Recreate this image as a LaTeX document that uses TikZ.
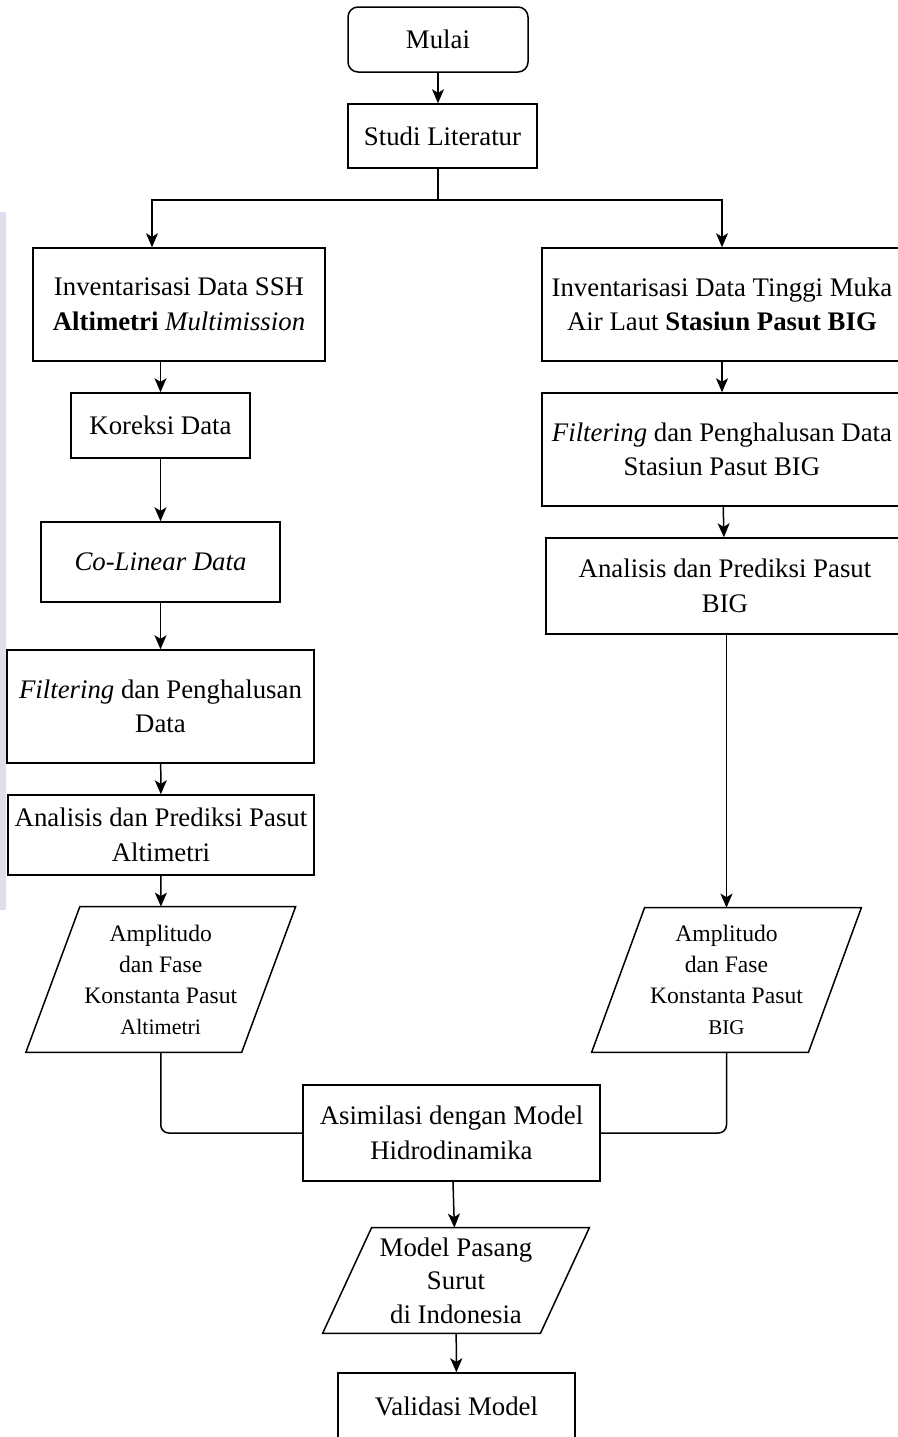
\documentclass[tikz,border=0pt]{standalone}
\usepackage{fontspec}
\setmainfont{Liberation Serif}
\usetikzlibrary{arrows.meta,calc}
\definecolor{stripcol}{RGB}{222,222,236}
\begin{document}
\begin{tikzpicture}[x=0.5pt,y=-0.5pt,
  box/.style={draw, line width=0.75pt, inner sep=0pt, align=center, font=\fontsize{13.4}{17.25}\selectfont},
  ptext/.style={inner sep=0pt, align=center, font=\fontsize{11.8}{15.5}\selectfont},
  arr/.style={line width=0.75pt, -{Stealth[length=7pt,width=6pt,inset=1.8pt]}},
  con/.style={line width=0.75pt},
  ]
\path[use as bounding box] (0,0) rectangle (898,1437);
\clip (0,0) rectangle (898,1437);
\fill[stripcol] (0,212) rectangle (6,910);

% left column and top
\node[box, rounded corners=5pt, minimum width=90pt, minimum height=32.5pt] (mulai) at (438,39.5) {Mulai};
\node[box, minimum width=94.5pt, minimum height=32pt] (studi) at (442.5,136) {Studi Literatur};
\node[box, minimum width=146pt, minimum height=56.5pt] (inv1) at (179,304.5) {Inventarisasi Data SSH\\\textbf{Altimetri} \textit{Multimission}};
\node[box, minimum width=89.5pt, minimum height=32.5pt] (kor) at (160.5,425.5) {Koreksi Data};
\node[box, minimum width=119.5pt, minimum height=40pt] (col) at (160.5,562) {\textit{Co-Linear Data}};
\node[box, minimum width=153.5pt, minimum height=56.5pt] (filt1) at (160.5,706.5) {\textit{Filtering} dan Penghalusan\\Data};
\node[box, minimum width=153pt, minimum height=40pt] (anal1) at (161,835) {Analisis dan Prediksi Pasut\\Altimetri};
\node[ptext, minimum width=107.5pt, minimum height=72.5pt] (pL) at (160.75,979.5) {Amplitudo\\dan Fase\\Konstanta Pasut\\{\fontsize{11}{15.5}\selectfont Altimetri}};

% right column
\node[box, minimum width=180pt, minimum height=56.5pt] (inv2) at (722,304.5) {Inventarisasi Data Tinggi Muka\\Air Laut \textbf{Stasiun Pasut BIG}};
\node[box, minimum width=180pt, minimum height=56.5pt] (filt2) at (722,449.5) {\textit{Filtering} dan Penghalusan Data\\Stasiun Pasut BIG};
\node[box, minimum width=179pt, minimum height=48pt] (anal2) at (725,586) {Analisis dan Prediksi Pasut\\BIG};
\node[ptext, minimum width=108pt, minimum height=72pt] (pR) at (726.5,980) {Amplitudo\\dan Fase\\Konstanta Pasut\\{\fontsize{10.5}{15.5}\selectfont BIG}};

% bottom
\node[box, minimum width=148.5pt, minimum height=48pt] (asim) at (451.5,1133) {Asimilasi dengan Model\\Hidrodinamika};
\node[ptext, font=\fontsize{13.4}{16.75}\selectfont, minimum width=108.5pt, minimum height=52.5pt] (model) at (456,1280.5) {Model Pasang\\Surut\\di Indonesia};
\node[box, minimum width=118.5pt, minimum height=33pt] (valid) at (456.5,1406) {Validasi Model};

% parallelogram outlines
\draw[con] ($(pL.north west)+(27,0)$) -- ($(pL.north east)+(27,0)$) -- ($(pL.south east)+(-27,0)$) -- ($(pL.south west)+(-27,0)$) -- cycle;
\draw[con] ($(pR.north west)+(26.5,0)$) -- ($(pR.north east)+(26.5,0)$) -- ($(pR.south east)+(-26.5,0)$) -- ($(pR.south west)+(-26.5,0)$) -- cycle;
\draw[con] ($(model.north west)+(24.5,0)$) -- ($(model.north east)+(24.5,0)$) -- ($(model.south east)+(-24.5,0)$) -- ($(model.south west)+(-24.5,0)$) -- cycle;

% connectors
\coordinate (split) at (438,200);
\draw[arr] (mulai.south) -- (mulai.south |- studi.north);
\draw[con] (split |- studi.south) -- (split);
\draw[arr] (split) -| ($(inv1.north)+(-27,0)$);
\draw[arr] (split) -| (inv2.north);
\draw[arr] (kor.north |- inv1.south) -- (kor.north);
\draw[arr] (kor) -- (col);
\draw[arr] (col) -- (filt1);
\draw[arr] (filt1) -- (anal1);
\draw[arr] (anal1) -- (pL);
\draw[arr] (inv2) -- (filt2);
\draw[arr] (filt2) -- (anal2);
\draw[arr] (pR.north |- anal2.south) -- (pR.north);
\draw[con, rounded corners=4pt] (pL.south) |- (asim.west);
\draw[con, rounded corners=4pt] (pR.south) |- (asim.east);
\draw[arr] (asim) -- (model);
\draw[arr] (model) -- (valid);
\end{tikzpicture}
\end{document}
